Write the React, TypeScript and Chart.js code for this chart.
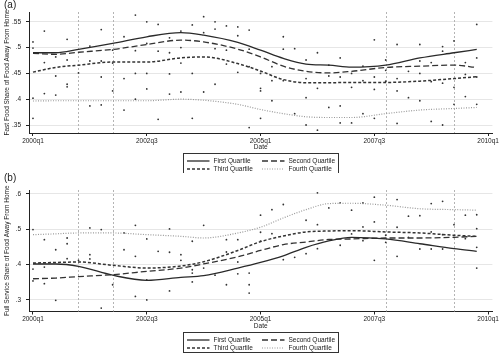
import React, { useEffect, useRef } from 'react';
import { Chart, registerables } from 'chart.js';

Chart.register(...registerables);

const FONT = '"Liberation Sans", Arial, Helvetica, sans-serif';

// ---- shared axis data ----
const quarterTicks = [0, 10, 20, 30, 40];
const quarterLabels = ['2000q1', '2002q3', '2005q1', '2007q3', '2010q1'];
const recessionQuarters = [4, 7, 31, 37];
const seriesNames = ['First Quartile', 'Second Quartile', 'Third Quartile', 'Fourth Quartile'];
const smoothQuarters = [0, 2, 4, 7, 10, 13, 15, 18, 20, 22, 24, 26, 28, 31, 34, 37, 39];

// ---- panel (a): fast food share ----
const fastFoodQ1 = [0.49, 0.49, 0.4965, 0.508, 0.521, 0.529, 0.524, 0.51, 0.495, 0.479, 0.468, 0.466, 0.462, 0.466, 0.48, 0.49, 0.4965];
const fastFoodQ2 = [0.489, 0.487, 0.491, 0.4965, 0.506, 0.5145, 0.511, 0.497, 0.482, 0.464, 0.454, 0.451, 0.454, 0.4615, 0.464, 0.466, 0.4615];
const fastFoodQ3 = [0.4525, 0.4615, 0.466, 0.472, 0.472, 0.48, 0.482, 0.469, 0.4545, 0.438, 0.432, 0.432, 0.4325, 0.4325, 0.435, 0.44, 0.4435];
const fastFoodQ4 = [0.3965, 0.397, 0.397, 0.397, 0.397, 0.4, 0.398, 0.39, 0.38, 0.372, 0.366, 0.3645, 0.3645, 0.372, 0.379, 0.382, 0.384];
const fastFoodPoints: [number, number][] = [
  [0, 0.511], [0, 0.499], [0, 0.402], [0, 0.363],
  [1, 0.532], [1, 0.471], [1, 0.411],
  [2, 0.482], [2, 0.445], [2, 0.408],
  [3, 0.516], [3, 0.476], [3, 0.429], [3, 0.424],
  [4, 0.451],
  [5, 0.503], [5, 0.474], [5, 0.387],
  [6, 0.535], [6, 0.474], [6, 0.443], [6, 0.389],
  [7, 0.495], [7, 0.47], [7, 0.416],
  [8, 0.521], [8, 0.44], [8, 0.379],
  [9, 0.563], [9, 0.494], [9, 0.45], [9, 0.4],
  [10, 0.55], [10, 0.508], [10, 0.45], [10, 0.42],
  [11, 0.545], [11, 0.493], [11, 0.361],
  [12, 0.519], [12, 0.49], [12, 0.449], [12, 0.41],
  [13, 0.532], [13, 0.5], [13, 0.47], [13, 0.414],
  [14, 0.544], [14, 0.45], [14, 0.363],
  [15, 0.56], [15, 0.529], [15, 0.414],
  [16, 0.55], [16, 0.536], [16, 0.498], [16, 0.429],
  [17, 0.542], [17, 0.495], [17, 0.468],
  [18, 0.54], [18, 0.523], [18, 0.452],
  [19, 0.534], [19, 0.497], [19, 0.463], [19, 0.345],
  [20, 0.45], [20, 0.421], [20, 0.416], [20, 0.363],
  [21, 0.463], [21, 0.436], [21, 0.397],
  [22, 0.521], [22, 0.497], [22, 0.436],
  [23, 0.498], [23, 0.372],
  [24, 0.476], [24, 0.44], [24, 0.403], [24, 0.35],
  [25, 0.49], [25, 0.421], [25, 0.34],
  [26, 0.466], [26, 0.445], [26, 0.384],
  [27, 0.48], [27, 0.443], [27, 0.387], [27, 0.354],
  [28, 0.45], [28, 0.423], [28, 0.354],
  [29, 0.464], [29, 0.436], [29, 0.372],
  [30, 0.515], [30, 0.443], [30, 0.419], [30, 0.363],
  [31, 0.476], [31, 0.456], [31, 0.435],
  [32, 0.506], [32, 0.44], [32, 0.416], [32, 0.353],
  [33, 0.454], [33, 0.403],
  [34, 0.506], [34, 0.474], [34, 0.45], [34, 0.397],
  [35, 0.471], [35, 0.434], [35, 0.357],
  [36, 0.502], [36, 0.493], [36, 0.431], [36, 0.35],
  [37, 0.513], [37, 0.423], [37, 0.39],
  [38, 0.471], [38, 0.448], [38, 0.405],
  [39, 0.545], [39, 0.48], [39, 0.443], [39, 0.39],
];
const fastFoodYTicks = [0.35, 0.4, 0.45, 0.5, 0.55];

// ---- panel (b): full service share ----
const fullServiceQ1 = [0.4017, 0.4017, 0.395, 0.37, 0.3555, 0.364, 0.369, 0.39, 0.406, 0.425, 0.449, 0.467, 0.477, 0.4725, 0.459, 0.445, 0.4377];
const fullServiceQ2 = [0.36, 0.362, 0.366, 0.3715, 0.381, 0.3903, 0.402, 0.422, 0.44, 0.4565, 0.464, 0.471, 0.4725, 0.4753, 0.4753, 0.4773, 0.48];
const fullServiceQ3 = [0.4045, 0.406, 0.4074, 0.398, 0.3903, 0.396, 0.408, 0.44, 0.465, 0.481, 0.4924, 0.495, 0.496, 0.4924, 0.4895, 0.483, 0.48];
const fullServiceQ4 = [0.4847, 0.487, 0.4895, 0.4895, 0.4847, 0.48, 0.4753, 0.4895, 0.5057, 0.532, 0.5555, 0.5725, 0.5735, 0.568, 0.558, 0.5555, 0.554];
const fullServicePoints: [number, number][] = [
  [0, 0.499], [0, 0.3875], [0, 0.354],
  [1, 0.4705], [1, 0.393], [1, 0.346],
  [2, 0.442], [2, 0.299],
  [3, 0.4753], [3, 0.459], [3, 0.4167],
  [4, 0.412],
  [5, 0.5037], [5, 0.428], [5, 0.416],
  [6, 0.499], [6, 0.277],
  [7, 0.343],
  [8, 0.4895], [8, 0.442],
  [9, 0.511], [9, 0.4235], [9, 0.31],
  [10, 0.4725], [10, 0.357], [10, 0.3],
  [11, 0.4377],
  [12, 0.501], [12, 0.435], [12, 0.3255],
  [13, 0.428], [13, 0.412],
  [14, 0.466], [14, 0.3855], [14, 0.376], [14, 0.351],
  [15, 0.511], [15, 0.3903],
  [16, 0.37],
  [17, 0.4705], [17, 0.4357], [17, 0.343],
  [18, 0.4705], [18, 0.4074], [18, 0.374],
  [19, 0.376], [19, 0.343], [19, 0.3195],
  [20, 0.5397], [20, 0.4915], [20, 0.466],
  [21, 0.5555], [21, 0.4875],
  [22, 0.57], [22, 0.414],
  [23, 0.4207],
  [24, 0.5255], [24, 0.431],
  [25, 0.603], [25, 0.513], [25, 0.445],
  [26, 0.5603],
  [27, 0.5745], [27, 0.4547],
  [28, 0.554], [28, 0.4867],
  [29, 0.5745], [29, 0.5066], [29, 0.4677],
  [30, 0.5907], [30, 0.5207], [30, 0.412],
  [31, 0.483], [31, 0.463],
  [32, 0.584], [32, 0.5057], [32, 0.4235],
  [33, 0.537], [33, 0.4773],
  [34, 0.5385], [34, 0.4442],
  [35, 0.5725], [35, 0.4924], [35, 0.4442],
  [36, 0.579], [36, 0.4847], [36, 0.4442],
  [37, 0.513], [37, 0.4773],
  [38, 0.5397], [38, 0.4734],
  [39, 0.541], [39, 0.5017], [39, 0.449], [39, 0.3903],
];
const fullServiceYTicks = [0.3, 0.4, 0.5, 0.6];

// ---- styles ----
const lineStyles = [
  { color: '#2a2a2a', width: 1.3, dash: [] as number[] },
  { color: '#333333', width: 1.3, dash: [6, 3] },
  { color: '#333333', width: 1.5, dash: [3, 2] },
  { color: '#9a9a9a', width: 1.2, dash: [1, 1.5] },
];

interface PanelSpec {
  tag: string;
  yTitle: string;
  series: number[][];
  points: [number, number][];
  yTicks: number[];
  yMin: number;
  yMax: number;
  height: number;
  padTop: number;
  xAxisHeight: number;
}

const panels: PanelSpec[] = [
  {
    tag: '(a)',
    yTitle: 'Fast Food Share of Food Away From Home',
    series: [fastFoodQ1, fastFoodQ2, fastFoodQ3, fastFoodQ4],
    points: fastFoodPoints,
    yTicks: fastFoodYTicks,
    yMin: 0.3345,
    yMax: 0.569,
    height: 173,
    padTop: 12,
    xAxisHeight: 40,
  },
  {
    tag: '(b)',
    yTitle: 'Full Service Share of Food Away From Home',
    series: [fullServiceQ1, fullServiceQ2, fullServiceQ3, fullServiceQ4],
    points: fullServicePoints,
    yTicks: fullServiceYTicks,
    yMin: 0.2674,
    yMax: 0.611,
    height: 180,
    padTop: 17,
    xAxisHeight: 41.5,
  },
];

const fmtTick = (v: number) => Number(v.toFixed(2)).toString().replace(/^0/, '');

function annotPlugin(p: PanelSpec) {
  return {
    id: 'annot',
    beforeDatasetsDraw(chart: any) {
      const { ctx, chartArea, scales } = chart;
      ctx.save();
      ctx.strokeStyle = '#b4b4b4';
      ctx.lineWidth = 1;
      ctx.setLineDash([2, 2]);
      recessionQuarters.forEach((q) => {
        const px = Math.round(scales.x.getPixelForValue(q)) + 0.5;
        ctx.beginPath();
        ctx.moveTo(px, chartArea.top);
        ctx.lineTo(px, chartArea.bottom);
        ctx.stroke();
      });
      ctx.restore();
    },
    afterDraw(chart: any) {
      const { ctx, chartArea } = chart;
      const { top, bottom, left, right } = chartArea;
      ctx.save();
      ctx.fillStyle = '#222';
      // panel tag
      ctx.font = `10px ${FONT}`;
      ctx.textAlign = 'left';
      ctx.textBaseline = 'middle';
      ctx.fillText(p.tag, 4, 5);
      // y title
      ctx.font = `6.5px ${FONT}`;
      ctx.save();
      ctx.translate(7, (top + bottom) / 2);
      ctx.rotate(-Math.PI / 2);
      ctx.textAlign = 'center';
      ctx.fillText(p.yTitle, 0, 0);
      ctx.restore();
      // x title
      const cx = (left + right) / 2;
      ctx.textAlign = 'center';
      ctx.fillText('Date', cx, bottom + 14.5);
      // legend
      const bw = 155;
      const bh = 20;
      const bx = Math.round(cx - bw / 2) + 0.5;
      const by = Math.round(bottom + 20) + 0.5;
      ctx.strokeStyle = '#333';
      ctx.lineWidth = 1;
      ctx.setLineDash([]);
      ctx.strokeRect(bx, by, bw, bh);
      const rows = [by + 7.5, by + 15.5];
      const cols = [bx + 3.5, bx + 78.5];
      seriesNames.forEach((name, i) => {
        const rx = cols[i % 2];
        const ry = rows[Math.floor(i / 2)];
        const st = lineStyles[i];
        ctx.strokeStyle = st.color;
        ctx.lineWidth = st.width;
        ctx.setLineDash(st.dash);
        ctx.beginPath();
        ctx.moveTo(rx, ry);
        ctx.lineTo(rx + 22.5, ry);
        ctx.stroke();
        ctx.fillStyle = '#222';
        ctx.textAlign = 'left';
        ctx.fillText(name, rx + 26.5, ry);
      });
      ctx.restore();
    },
  };
}

function Panel({ spec }: { spec: PanelSpec }) {
  const ref = useRef<HTMLCanvasElement | null>(null);
  useEffect(() => {
    if (!ref.current) return;
    const lineSets = spec.series.map((vals, i) => ({
      type: 'line' as const,
      label: seriesNames[i],
      data: smoothQuarters.map((q, k) => ({ x: q, y: vals[k] })),
      borderColor: lineStyles[i].color,
      borderWidth: lineStyles[i].width,
      borderDash: lineStyles[i].dash,
      pointRadius: 0,
      fill: false,
      cubicInterpolationMode: 'monotone' as const,
      order: 1,
    }));
    const scatterSet = {
      type: 'scatter' as const,
      label: 'points',
      data: spec.points.map(([q, v]) => ({ x: q, y: v })),
      pointRadius: 0.9,
      pointBackgroundColor: '#333',
      pointBorderWidth: 0,
      showLine: false,
      order: 2,
    };
    const chart = new Chart(ref.current, {
      type: 'line',
      data: { datasets: [scatterSet as any, ...lineSets] },
      options: {
        responsive: false,
        animation: false,
        devicePixelRatio: 1,
        layout: { padding: { top: spec.padTop, right: 5, left: 0, bottom: 0 } },
        plugins: { legend: { display: false }, tooltip: { enabled: false } },
        events: [],
        scales: {
          x: {
            type: 'linear',
            min: -0.35,
            max: 40.38,
            afterBuildTicks: (s: any) => {
              s.ticks = quarterTicks.map((v) => ({ value: v }));
            },
            afterFit: (s: any) => {
              s.height = spec.xAxisHeight;
            },
            ticks: {
              callback: (_v: any, idx: number) => quarterLabels[idx],
              font: { family: FONT, size: 6.5 },
              color: '#222',
              padding: 1,
              maxRotation: 0,
              autoSkip: false,
            },
            grid: { drawOnChartArea: false, drawTicks: true, tickLength: 3, tickColor: '#222' },
            border: { color: '#222', width: 1 },
          },
          y: {
            type: 'linear',
            min: spec.yMin,
            max: spec.yMax,
            afterBuildTicks: (s: any) => {
              s.ticks = spec.yTicks.map((v) => ({ value: v }));
            },
            afterFit: (s: any) => {
              s.width = 29;
            },
            ticks: {
              callback: (v: any) => fmtTick(Number(v)),
              font: { family: FONT, size: 6.5 },
              color: '#222',
              padding: 5,
            },
            grid: { color: '#e6e6e6', lineWidth: 1, tickLength: 3, tickColor: '#222' },
            border: { color: '#222', width: 1 },
          },
        },
      },
      plugins: [annotPlugin(spec)],
    });
    return () => chart.destroy();
  }, [spec]);
  return <canvas ref={ref} width={500} height={spec.height} style={{ display: 'block', width: 500, height: spec.height }} />;
}

export default function App() {
  return (
    <div style={{ position: 'absolute', left: 0, top: 0, width: 500, height: 353, background: '#fff' }}>
      {panels.map((p) => (
        <Panel key={p.tag} spec={p} />
      ))}
    </div>
  );
}
